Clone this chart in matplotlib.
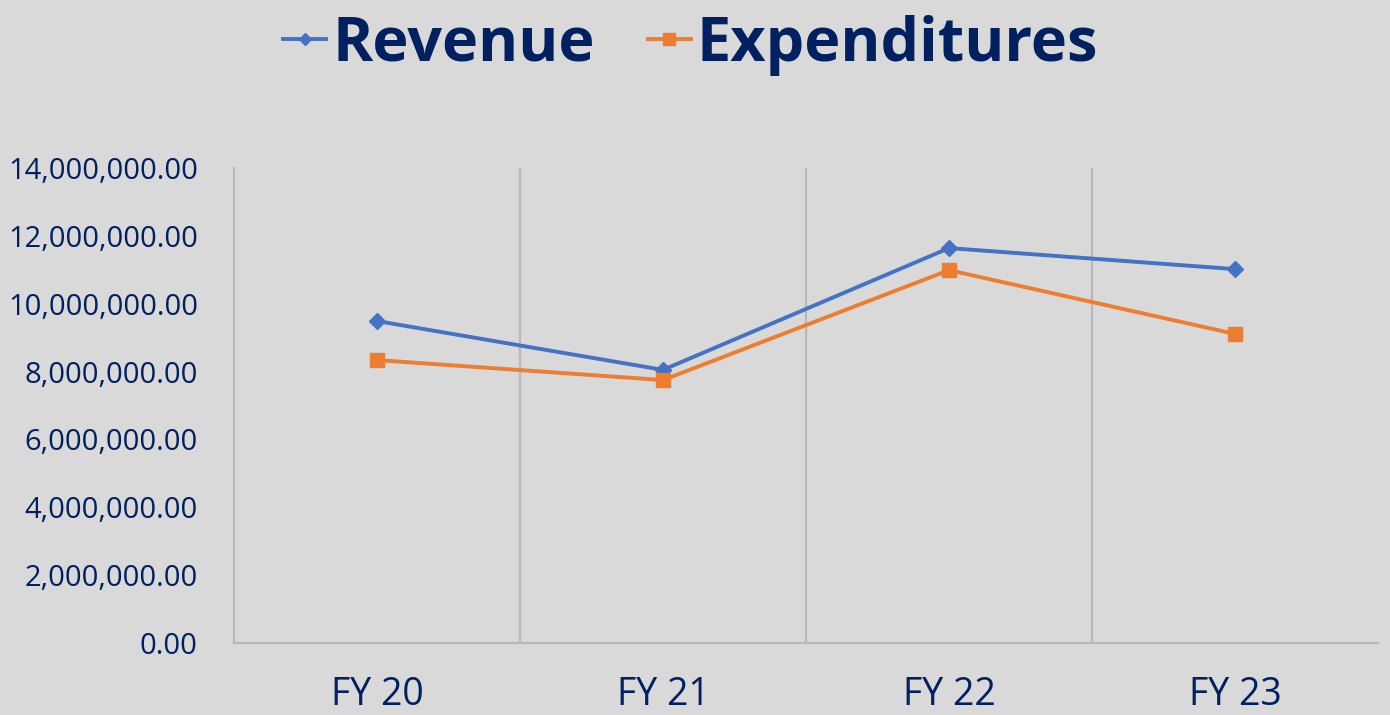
import matplotlib
matplotlib.use("Agg")
import matplotlib.pyplot as plt
from matplotlib.ticker import FuncFormatter, MultipleLocator

categories = ["FY 20", "FY 21", "FY 22", "FY 23"]
revenue = [9490000, 8050000, 11640000, 11020000]
expenditures = [8340000, 7750000, 10990000, 9110000]

navy = "#002060"
bg = "#d9d9d9"
plt.rcParams['font.family'] = ['Open Sans', 'DejaVu Sans']

fig = plt.figure(figsize=(13.9, 7.15), dpi=100, facecolor=bg)
ax = fig.add_axes([0.1683, 0.1007, 0.8231, 0.6643], facecolor=bg)

x = list(range(len(categories)))
ax.plot(x, revenue, color="#4472c4", lw=2.8, marker="D", markersize=8,
        label="Revenue", zorder=3)
ax.plot(x, expenditures, color="#ed7d31", lw=2.8, marker="s", markersize=10,
        label="Expenditures", zorder=3)

ax.set_xlim(-0.5, len(categories) - 0.5)
ax.set_ylim(0, 14000000)
ax.yaxis.set_major_locator(MultipleLocator(2000000))
ax.yaxis.set_major_formatter(FuncFormatter(lambda v, p: f"{v:,.2f}"))
ax.set_xticks(x)
ax.set_xticklabels(categories)
ax.set_xticks([i + 0.5 for i in x[:-1]], minor=True)
ax.grid(axis='x', which='minor', color="#b8b8b8", lw=1.6)
ax.tick_params(axis='both', which='both', length=0)
ax.tick_params(axis='y', labelsize=21, labelcolor=navy, pad=26)
ax.tick_params(axis='x', labelsize=27, labelcolor=navy, pad=24)

for s in ["top", "right"]:
    ax.spines[s].set_visible(False)
for s in ["left", "bottom"]:
    ax.spines[s].set_color("#b8b8b8")
    ax.spines[s].set_linewidth(1.6)

leg = fig.legend(loc="center", bbox_to_anchor=(0.497, 0.937), ncol=2,
                 frameon=False, handlelength=0.7, handletextpad=0.1,
                 columnspacing=0.87, prop={'family': ['Open Sans'], 'weight': 'bold', 'size': 44},
                 markerscale=0.8)
for t in leg.get_texts():
    t.set_color(navy)

fig.savefig("out.png", dpi=100, facecolor=bg)
